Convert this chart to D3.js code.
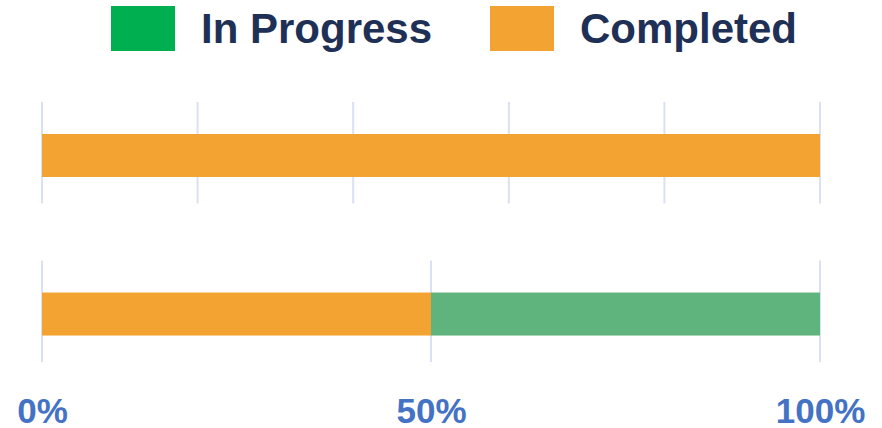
<!DOCTYPE html>
<html>
<head>
<meta charset="utf-8">
<script src="https://cdn.jsdelivr.net/npm/d3@7"></script>
<style>
  body { margin: 0; background: #fff; }
  svg { display: block; font-family: "Liberation Sans", Arial, sans-serif; }
</style>
</head>
<body>
<script>
// données
const rows = ["Row 1", "Row 2"];
const completed = [1, 0.5];
const inProgress = [0, 0.5];
const gridTicks = [[0, 0.2, 0.4, 0.6, 0.8, 1], [0, 0.5, 1]];
const axisTicks = [0, 0.5, 1];
const series = ["In Progress", "Completed"];
const legendColors = ["#00b050", "#f2a331"];
const barColors = { completed: "#f2a331", inProgress: "#5fb47e" };

const width = 882, height = 428;

const svg = d3.select("body")
    .append("svg")
    .attr("width", width)
    .attr("height", height);

const x = d3.scaleLinear()
    .domain([0, 1])
    .range([42, 820]);

// chaque ligne a son propre panneau
const panels = d3.scaleBand()
    .domain(rows)
    .range([102, 362])
    .paddingInner(0.36);

rows.forEach((r, i) => {
    const y0 = panels(r);
    const h = panels.bandwidth();
    const g = svg.append("g");

    g.selectAll("line")
        .data(gridTicks[i])
        .join("line")
        .attr("x1", d => x(d))
        .attr("x2", d => x(d))
        .attr("y1", y0)
        .attr("y2", y0 + h)
        .attr("stroke", "#d9e1f2")
        .attr("stroke-width", 2);

    const barH = 43;
    const by = y0 + 32;

    g.append("rect")
        .attr("x", x(0))
        .attr("y", by)
        .attr("width", x(completed[i]) - x(0))
        .attr("height", barH)
        .attr("fill", barColors.completed);

    if (inProgress[i] > 0) {
        g.append("rect")
            .attr("x", x(completed[i]))
            .attr("y", by)
            .attr("width", x(completed[i] + inProgress[i]) - x(completed[i]))
            .attr("height", barH)
            .attr("fill", barColors.inProgress);
    }
});

// axe du bas
const axis = svg.append("g")
    .attr("transform", "translate(0, 423)")
    .call(d3.axisBottom(x).tickValues(axisTicks).tickFormat(d3.format(".0%")).tickSize(0).tickPadding(0));
axis.select(".domain").remove();
axis.selectAll("text")
    .attr("dy", 0)
    .attr("fill", "#4472c4")
    .style("font-size", "35px")
    .style("font-weight", "bold")
    .style("font-family", "'Liberation Sans', Arial, sans-serif");

// légende
const legendX = [111, 490];
const legend = svg.append("g");
series.forEach((s, i) => {
    legend.append("rect")
        .attr("x", legendX[i])
        .attr("y", 6)
        .attr("width", 64)
        .attr("height", 45)
        .attr("fill", legendColors[i]);
    legend.append("text")
        .attr("x", legendX[i] + 90)
        .attr("y", 43)
        .attr("fill", "#1f3056")
        .style("font-size", "42px")
        .style("font-weight", "bold")
        .text(s);
});
</script>
</body>
</html>
